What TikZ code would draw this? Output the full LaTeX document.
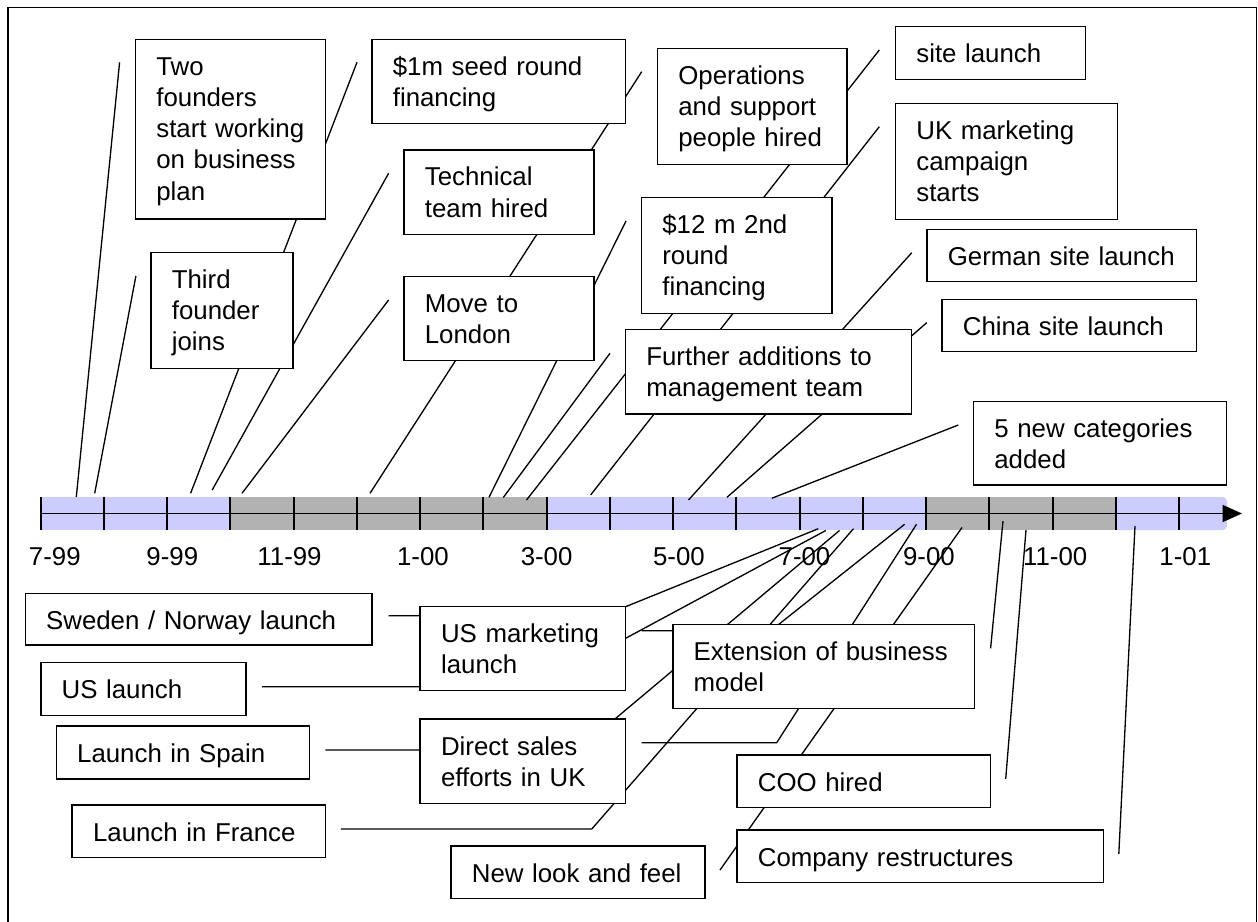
\documentclass[tikz,border=0pt]{standalone}
\usepackage{fontspec}
\setmainfont{Liberation Sans}
\usetikzlibrary{calc,arrows.meta}

\definecolor{barblue}{RGB}{204,204,255}
\definecolor{bargray}{RGB}{178,178,178}

\newcommand\boxfont{\fontsize{14.7pt}{17.75pt}\selectfont}

% a milestone box: name, left, top, right, bottom (pixel units), text
\newcommand\tlbox[6]{%
  \node[box, minimum width={(#4-#2)*0.02cm}, minimum height={(#5-#3)*0.02cm}] (#1) at (#2,#3) {};
  \node[boxtext] (#1-text) at ($(#1.north west)+(20.5,36)$) {#6};
}

\begin{document}
\begin{tikzpicture}[x=0.02cm, y=-0.02cm,
  box/.style={draw=black, fill=white, line width=0.85pt, inner sep=0pt, outer sep=0pt, anchor=north west},
  boxtext/.style={font=\boxfont, anchor=base west, inner sep=0pt, align=left, text width=9cm},
  callout/.style={draw=black, line width=0.75pt},
  tickmark/.style={draw=black, line width=1.1pt},
  monthlabel/.style={font=\boxfont, anchor=base west, inner sep=0pt},
]
\useasboundingbox (0,0) rectangle (1258,922);

% outer frame
\draw[line width=0.85pt] (8,923) -- (8,7.5) -- (1256.5,7.5) -- (1256.5,923);

% timeline bar
\fill[barblue] (40.6,497) rectangle (230.6,530);
\fill[bargray] (230.6,497) rectangle (546.9,530);
\fill[barblue] (546.9,497) rectangle (926.2,530);
\fill[bargray] (926.2,497) rectangle (1115.8,530);
\fill[barblue] (1115.8,530) -- (1115.8,497) [rounded corners=2.5pt] -- (1227,497) -- (1227,530) [sharp corners] -- cycle;
\foreach \k in {0,...,18}
  \draw[tickmark] ({40.6+63.25*\k},497) -- ({40.6+63.25*\k},530);
\coordinate (axis-start) at (40.6,513.5);
\coordinate (axis-end) at (1242,513.5);
\draw[line width=1.1pt, -{Triangle[length=0.39cm, width=0.34cm]}] (axis-start) -- (axis-end);

% month labels
\node[monthlabel] (m-jul99) at (28.6,565) {7-99};
\node[monthlabel] (m-sep99) at (146.1,565) {9-99};
\node[monthlabel] (m-nov99) at (257.1,565) {11-99};
\node[monthlabel] (m-jan00) at (396.7,565) {1-00};
\node[monthlabel] (m-mar00) at (520.4,565) {3-00};
\node[monthlabel] (m-may00) at (652.7,565) {5-00};
\node[monthlabel] (m-jul00) at (778.3,565) {7-00};
\node[monthlabel] (m-sep00) at (902.7,565) {9-00};
\node[monthlabel] (m-nov00) at (1022.8,565) {11-00};
\node[monthlabel] (m-jan01) at (1159.1,565) {1-01};

% callout end points: free start near each box, tip on the bar
\coordinate (two-s) at (119.6,62.3);     \coordinate (two-t) at (76.3,497);
\coordinate (third-s) at (135.9,276);    \coordinate (third-t) at (94.7,493.3);
\coordinate (seed-s) at (357,62.3);      \coordinate (seed-t) at (190.6,493.3);
\coordinate (tech-s) at (388.6,173.3);   \coordinate (tech-t) at (212.2,490);
\coordinate (move-s) at (388.6,300);     \coordinate (move-t) at (242,493.3);
\coordinate (ops-s) at (641.7,71.7);     \coordinate (ops-t) at (370,493.3);
\coordinate (second-s) at (626,221);     \coordinate (second-t) at (489,497.3);
\coordinate (mgmt-s) at (610,353.3);     \coordinate (mgmt-t) at (503.3,497.5);
\coordinate (site-s) at (879.3,50);      \coordinate (site-t) at (526.5,500);
\coordinate (ukmkt-s) at (879.3,126.7);  \coordinate (ukmkt-t) at (590.6,495);
\coordinate (german-s) at (911.8,252.7); \coordinate (german-t) at (688.5,500);
\coordinate (china-s) at (926.7,322.7);  \coordinate (china-t) at (727,497.3);
\coordinate (cats-s) at (958.3,425);     \coordinate (cats-t) at (771.8,498.3);

\coordinate (sweden-s) at (388.6,615.7); \coordinate (sweden-b) at (603.4,615.7); \coordinate (sweden-t) at (818.3,528.7);
\coordinate (uslaunch-s) at (262,686.7); \coordinate (uslaunch-b) at (535.7,686.7); \coordinate (uslaunch-t) at (825.8,530.5);
\coordinate (spain-s) at (325.3,750);    \coordinate (spain-b) at (578,750);      \coordinate (spain-t) at (839.5,530.5);
\coordinate (france-s) at (340.8,829);   \coordinate (france-b) at (591.8,829);   \coordinate (france-t) at (853.5,528.7);
\coordinate (usmkt-s) at (641.7,630.7);  \coordinate (usmkt-b) at (770.8,630.7);  \coordinate (usmkt-t) at (904.6,524.3);
\coordinate (direct-s) at (641.7,742.7); \coordinate (direct-b) at (776.7,742.7); \coordinate (direct-t) at (916.5,524.3);
\coordinate (newlook-s) at (720,870);    \coordinate (newlook-t) at (962,527.5);
\coordinate (extension-s) at (990.6,648.3); \coordinate (extension-t) at (1003,521);
\coordinate (coo-s) at (1005.7,779);     \coordinate (coo-t) at (1026,530);
\coordinate (restructure-s) at (1118.8,854); \coordinate (restructure-t) at (1135,526);

% callout lines (drawn first, so the boxes cover them)
\foreach \c in {two,third,seed,tech,move,ops,second,mgmt,site,ukmkt,german,china,cats,newlook,extension,coo,restructure}
  \draw[callout] (\c-s) -- (\c-t);
\foreach \c in {sweden,uslaunch,spain,france,usmkt,direct}
  \draw[callout] (\c-s) -- (\c-b) -- (\c-t);

% milestone boxes above the bar
\tlbox{two}{135.5}{39.3}{325.3}{219}{Two\\founders\\start working\\on business\\plan}
\tlbox{seed}{372}{39.3}{625.7}{123.7}{\$1m seed round\\financing}
\tlbox{tech}{404}{150}{594}{234.3}{Technical\\team hired}
\tlbox{third}{151}{252.3}{293}{368.7}{Third\\founder\\joins}
\tlbox{move}{404}{276.7}{594}{360.7}{Move to\\London}
\tlbox{ops}{657.5}{48.3}{847}{164.3}{Operations\\and support\\people hired}
\tlbox{second}{641.5}{197.5}{832}{313.3}{\$12 m 2nd\\round\\financing}
\tlbox{mgmt}{625.5}{329.5}{911.5}{414}{Further additions to\\management team}
\tlbox{site}{895.5}{26.7}{1085.3}{79.3}{site launch}
\tlbox{ukmkt}{895.5}{103.3}{1117.5}{219.3}{UK marketing\\campaign\\starts}
\tlbox{german}{927}{229.3}{1196.7}{281.7}{German site launch}
\tlbox{china}{942}{299.3}{1196.7}{351.7}{China site launch}
\tlbox{cats}{973.5}{401.7}{1226.5}{485}{5 new categories\\added}

% milestone boxes below the bar
\tlbox{sweden}{25.3}{593.3}{372.2}{645}{Sweden / Norway launch}
\tlbox{uslaunch}{40.8}{662.7}{246}{715.7}{US launch}
\tlbox{spain}{56.3}{726}{309.4}{779}{Launch in Spain}
\tlbox{france}{72.2}{805}{325.3}{857.7}{Launch in France}
\tlbox{usmkt}{420.2}{606.7}{625.7}{690.7}{US marketing\\launch}
\tlbox{direct}{420.2}{719}{625.7}{803.3}{Direct sales\\efforts in UK}
\tlbox{newlook}{451}{846}{705}{898.3}{New look and feel}
\tlbox{extension}{672.8}{624.3}{974.3}{708.3}{Extension of business\\model}
\tlbox{coo}{737}{755}{990.6}{807.3}{COO hired}
\tlbox{restructure}{737}{830}{1103.7}{882.7}{Company restructures}
\end{tikzpicture}
\end{document}
